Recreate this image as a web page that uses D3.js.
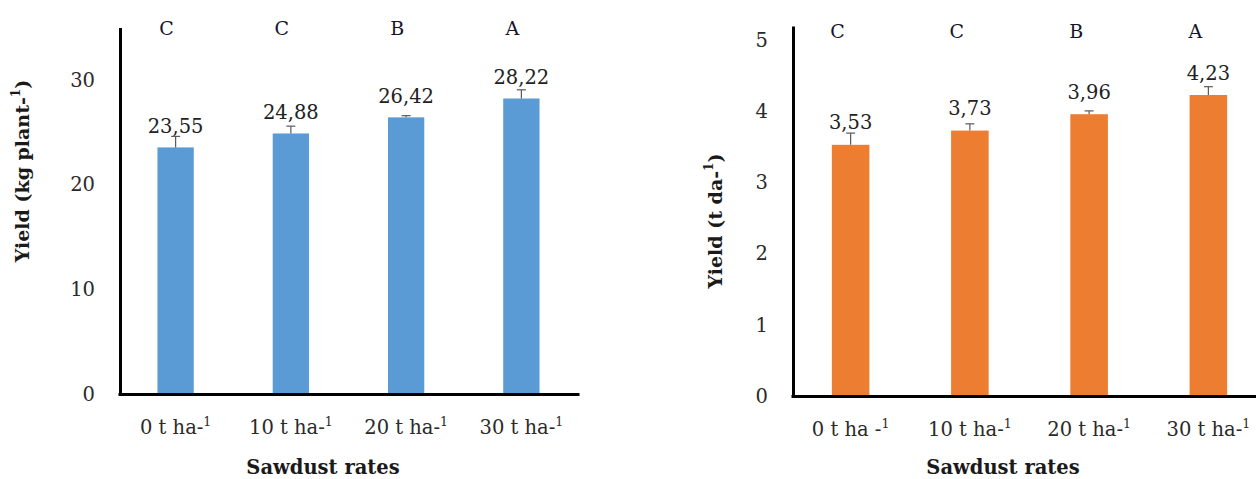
<!DOCTYPE html>
<html>
<head>
<meta charset="utf-8">
<script src="https://cdn.jsdelivr.net/npm/d3@7"></script>
<style>
  body { margin: 0; background: #fff; }
  svg { display: block; font-family: "DejaVu Serif", serif; }
</style>
</head>
<body>
<svg id="chart" width="1256" height="479"></svg>
<script>
// sawdust rates (x categories), tick label base + superscript
const ratesLeft = ["0 t ha-", "10 t ha-", "20 t ha-", "30 t ha-"]
const ratesRight = ["0 t ha -", "10 t ha-", "20 t ha-", "30 t ha-"]
const groupLetters = ["C", "C", "B", "A"]

// yield per plant (kg) and its error
const yieldKg = [23.55, 24.88, 26.42, 28.22]
const yieldKgErr = [1.05, 0.7, 0.16, 0.83]
const ticksKg = [0, 10, 20, 30]

// yield per decare (t) and its error
const yieldT = [3.53, 3.73, 3.96, 4.23]
const yieldTErr = [0.165, 0.095, 0.047, 0.117]
const ticksT = [0, 1, 2, 3, 4, 5]

const comma = d3.formatLocale({decimal: ",", thousands: ".", grouping: [3], currency: ["", ""]})
const fmt2 = comma.format(".2f")

const svg = d3.select("#chart")

function drawChart(opt)
{
	let g = svg.append("g")
	let x = d3.scaleBand().domain(opt.cats).range(opt.xRange).padding(0)
	let y = d3.scaleLinear().domain([0, opt.max]).range(opt.yRange)
	let bw = x.bandwidth() * 0.315
	let cx = (i) => x(opt.cats[i]) + x.bandwidth() / 2

	// bars
	g.selectAll("rect.bar").data(opt.values).join("rect")
		.attr("class", "bar")
		.attr("x", (d, i) => cx(i) - bw / 2)
		.attr("y", d => y(d))
		.attr("width", bw)
		.attr("height", d => y(0) - y(d))
		.attr("fill", opt.color)

	// error bars (plus only)
	let eb = g.selectAll("g.err").data(opt.values).join("g").attr("class", "err")
	eb.append("line")
		.attr("x1", (d, i) => cx(i)).attr("x2", (d, i) => cx(i))
		.attr("y1", d => y(d)).attr("y2", (d, i) => y(d + opt.errs[i]))
		.attr("stroke", "#595959").attr("stroke-width", 1.2)
	eb.append("line")
		.attr("x1", (d, i) => cx(i) - 4.5).attr("x2", (d, i) => cx(i) + 4.5)
		.attr("y1", (d, i) => y(d + opt.errs[i])).attr("y2", (d, i) => y(d + opt.errs[i]))
		.attr("stroke", "#595959").attr("stroke-width", 1.2)

	// value labels
	g.selectAll("text.val").data(opt.values).join("text")
		.attr("class", "val")
		.attr("x", (d, i) => cx(i))
		.attr("y", d => y(d) - opt.labelGap)
		.attr("text-anchor", "middle")
		.attr("font-size", 19.5)
		.attr("fill", "#222")
		.text(d => fmt2(d))

	// significance letters
	g.selectAll("text.grp").data(groupLetters).join("text")
		.attr("class", "grp")
		.attr("x", (d, i) => cx(i) + opt.letterDx)
		.attr("y", opt.letterY)
		.attr("text-anchor", "middle")
		.attr("font-size", 19)
		.attr("fill", "#14142a")
		.text(d => d)

	// y axis
	let ya = g.append("g")
		.attr("transform", `translate(${opt.yAxisX},0)`)
		.call(d3.axisLeft(y).tickValues(opt.ticks).tickFormat(d3.format("d")).tickSize(0).tickSizeOuter(0).tickPadding(25))
	ya.select(".domain").attr("stroke", "#000").attr("stroke-width", 3)
	ya.selectAll(".tick text").attr("font-size", 19.5).attr("fill", "#2a2a2a").attr("font-family", "DejaVu Serif")

	// x axis
	let xa = g.append("g")
		.attr("transform", `translate(0,${y(0)})`)
		.call(d3.axisBottom(x).tickSize(0).tickSizeOuter(0).tickPadding(26))
	xa.select(".domain").attr("stroke", "#000").attr("stroke-width", 3)
	xa.selectAll(".tick text")
		.attr("font-size", 19.5).attr("fill", "#2a2a2a").attr("font-family", "DejaVu Serif")
		.each(function(d) {
			let t = d3.select(this)
			t.text(null)
			t.append("tspan").text(d)
			t.append("tspan").attr("font-size", 12.5).attr("dy", "-0.6em").text("1")
		})

	// axis titles
	let yt = g.append("text")
		.attr("transform", `translate(${opt.yTitle[0]},${opt.yTitle[1]}) rotate(-90)`)
		.attr("text-anchor", "middle")
		.attr("dy", "0.35em")
		.attr("font-size", 19)
		.attr("font-weight", "bold")
		.attr("fill", "#1a1a1a")
	yt.append("tspan").text(opt.yTitleText)
	yt.append("tspan").attr("font-size", 12).attr("dy", "-0.7em").text("1")
	yt.append("tspan").attr("dy", "0.45em").text(")")

	g.append("text")
		.attr("x", opt.xTitle[0]).attr("y", opt.xTitle[1])
		.attr("text-anchor", "middle")
		.attr("font-size", 19.5)
		.attr("font-weight", "bold")
		.attr("fill", "#1a1a1a")
		.text("Sawdust rates")
}

drawChart({
	cats: ratesLeft, values: yieldKg, errs: yieldKgErr, ticks: ticksKg, max: 35,
	xRange: [118, 579], yRange: [394, 27.5], yAxisX: 120, color: "#5B9BD5",
	labelGap: 14.5, letterY: 35, letterDx: -9,
	yTitle: [22, 171], yTitleText: "Yield (kg plant-", xTitle: [323, 474]
})

drawChart({
	cats: ratesRight, values: yieldT, errs: yieldTErr, ticks: ticksT, max: 5.2,
	xRange: [791, 1268], yRange: [396, 26], yAxisX: 793, color: "#ED7D31",
	labelGap: 15.5, letterY: 38, letterDx: -13,
	yTitle: [715, 221], yTitleText: "Yield (t da-", xTitle: [1003, 474]
})
</script>
</body>
</html>
